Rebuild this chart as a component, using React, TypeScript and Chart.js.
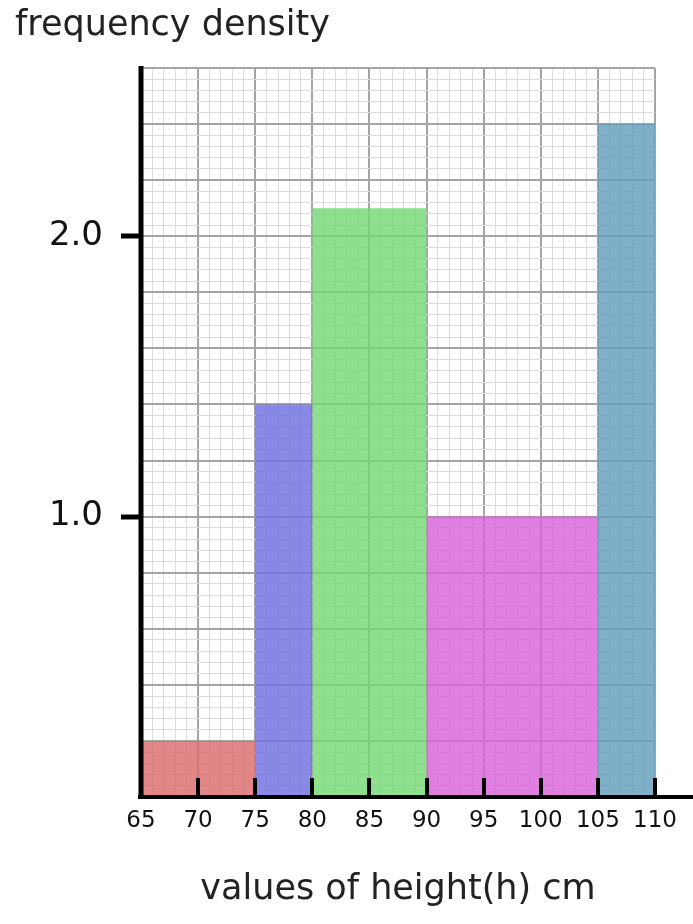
import React, { useEffect, useRef } from "react";
import { Chart, registerables } from "chart.js";

Chart.register(...registerables);

const binStarts = [65, 75, 80, 90, 105];
const binEnds = [75, 80, 90, 105, 110];
const densities = [0.2, 1.4, 2.1, 1.0, 2.4];
const binColors = [
  "rgba(217,105,105,0.8)",
  "rgba(109,109,224,0.8)",
  "rgba(114,216,114,0.8)",
  "rgba(216,96,216,0.8)",
  "rgba(96,156,186,0.8)",
];
const xTickMarks = [70, 75, 80, 85, 90, 95, 100, 105, 110];
const yLabelValues = [1.0, 2.0];
const yTitle = "frequency density";
const xTitle = "values of height(h) cm";

const FONT = "'DejaVu Sans', Verdana, sans-serif";

const axisPlugin = {
  id: "axisExtras",
  afterDatasetsDraw(chart: any) {
    const { ctx, chartArea, scales } = chart;
    const x = scales.x;
    ctx.save();
    ctx.strokeStyle = "#000";
    ctx.lineWidth = 4;
    xTickMarks.forEach((v) => {
      const px = Math.round(x.getPixelForValue(v));
      ctx.beginPath();
      ctx.moveTo(px, chartArea.bottom);
      ctx.lineTo(px, chartArea.bottom - 19);
      ctx.stroke();
    });
    // x axis line (extends past the last bin)
    ctx.beginPath();
    ctx.moveTo(chartArea.left - 3, chartArea.bottom);
    ctx.lineTo(chart.width, chartArea.bottom);
    ctx.stroke();
    // y axis line
    ctx.lineWidth = 5;
    ctx.beginPath();
    ctx.moveTo(chartArea.left, chartArea.top - 2);
    ctx.lineTo(chartArea.left, chartArea.bottom + 2);
    ctx.stroke();
    ctx.restore();
  },
};

export default function App() {
  const ref = useRef<HTMLCanvasElement | null>(null);
  useEffect(() => {
    if (!ref.current) return;
    const datasets = densities.map((h, i) => ({
      label: `${binStarts[i]}-${binEnds[i]}`,
      data: [
        { x: binStarts[i], y: 0 },
        { x: binStarts[i], y: h },
        { x: binEnds[i], y: h },
        { x: binEnds[i], y: 0 },
      ],
      backgroundColor: binColors[i],
      borderWidth: 0,
      borderColor: "rgba(0,0,0,0)",
      pointRadius: 0,
      fill: "origin",
      tension: 0,
    }));
    const chart = new Chart(ref.current, {
      type: "line",
      data: { datasets },
      plugins: [axisPlugin],
      options: {
        animation: false,
        responsive: false,
        devicePixelRatio: 1,
        layout: { padding: { left: 15, right: 38, top: 0, bottom: 0 } },
        plugins: {
          legend: { display: false },
          tooltip: { enabled: false },
          title: {
            display: true,
            text: yTitle,
            align: "start",
            color: "#222",
            font: { family: FONT, size: 35, weight: "normal" },
            padding: { top: 5, bottom: 21 },
          },
        },
        scales: {
          x: {
            type: "linear",
            min: 65,
            max: 110,
            afterFit: (s: any) => {
              s.height = 127;
            },
            border: { display: false },
            grid: {
              drawTicks: false,
              color: (c: any) => (Math.round(c.tick.value) % 5 === 0 ? "#a4a4a4" : "#dcdcdc"),
              lineWidth: (c: any) => (Math.round(c.tick.value) % 5 === 0 ? 2 : 1),
            },
            ticks: {
              stepSize: 1,
              autoSkip: false,
              maxRotation: 0,
              padding: 10,
              color: "#111",
              font: { family: FONT, size: 23 },
              callback: (v: any) => (Math.round(v) % 5 === 0 ? String(v) : ""),
            },
            title: {
              display: true,
              text: xTitle,
              color: "#222",
              font: { family: FONT, size: 35 },
              padding: { top: 0, bottom: 13 },
            },
          },
          y: {
            type: "linear",
            min: 0,
            max: 2.6,
            afterFit: (s: any) => {
              s.width = 126;
            },
            border: { display: false },
            grid: {
              tickLength: 20,
              color: (c: any) => (Math.round(c.tick.value * 25) % 5 === 0 ? "#a4a4a4" : "#dcdcdc"),
              lineWidth: (c: any) => (Math.round(c.tick.value * 25) % 5 === 0 ? 2 : 1),
              tickColor: (c: any) =>
                yLabelValues.some((v) => Math.abs(v - c.tick.value) < 1e-6) ? "#000" : "rgba(0,0,0,0)",
              tickWidth: 5,
            },
            ticks: {
              stepSize: 0.04,
              autoSkip: false,
              padding: 18,
              color: "#111",
              font: { family: FONT, size: 34 },
              callback: (v: any) =>
                yLabelValues.some((y) => Math.abs(y - v) < 1e-6) ? Number(v).toFixed(1) : "",
            },
          },
        },
      },
    } as any);
    return () => chart.destroy();
  }, []);
  return (
    <div style={{ position: "absolute", left: 0, top: 0, width: 693, height: 924, background: "#fff" }}>
      <canvas ref={ref} width={693} height={924} style={{ width: 693, height: 924 }} />
    </div>
  );
}
